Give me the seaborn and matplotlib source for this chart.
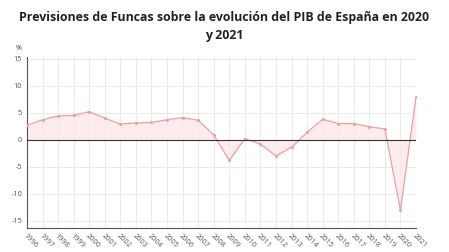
import matplotlib
matplotlib.use("Agg")
import matplotlib.pyplot as plt
import seaborn as sns
import pandas as pd

years = list(range(1996, 2022))
pib = [2.7, 3.7, 4.4, 4.5, 5.2, 4.0, 2.9, 3.1, 3.2, 3.7, 4.1, 3.6, 0.9, -3.8,
       0.2, -0.8, -3.0, -1.4, 1.4, 3.8, 3.0, 3.0, 2.4, 2.0, -13.0, 7.9]
yticks = [-15, -10, -5, 0, 5, 10, 15]
title = "Previsiones de Funcas sobre la evolución del PIB de España en 2020\ny 2021"

df = pd.DataFrame({"year": years, "pib": pib})

sns.set_style("white")
plt.rcParams['font.family'] = ['Open Sans', 'DejaVu Sans']

fig = plt.figure(figsize=(4.49, 2.52), dpi=100)
ax = fig.add_axes([27/449, 1 - 228/252, (416 - 27)/449, (228 - 57)/252])

line_c = "#e8a0a0"
ax.fill_between(df["year"], df["pib"], 0, color="#fde8ea", alpha=0.8, lw=0, zorder=1)
sns.lineplot(data=df, x="year", y="pib", ax=ax, color=line_c, lw=0.9,
             marker="o", markersize=2.2, markeredgewidth=0, zorder=3)
ax.axhline(0, color="#333333", lw=0.8, zorder=4)

ax.set_xlim(1996, 2021)
ax.set_ylim(-16.3, 15.3)
ax.set_xticks(years)
ax.set_xticklabels([str(y) for y in years], rotation=-45, ha="left",
                   rotation_mode="anchor", fontsize=5.3, color="#555555")
ax.set_yticks(yticks)
ax.set_yticklabels([str(v) for v in yticks], fontsize=5.3, color="#555555")
ax.tick_params(axis="both", length=2, width=0.6, color="#555555", pad=1.5)
ax.grid(True, color="#e6e6e6", lw=0.6, zorder=0)
ax.set_axisbelow(True)
for s in ["top", "right"]:
    ax.spines[s].set_visible(False)
for s in ["left", "bottom"]:
    ax.spines[s].set_color("#555555")
    ax.spines[s].set_linewidth(0.8)
ax.set_xlabel("")
ax.set_ylabel("")

fig.text(16/449, 1 - 49/252, "%", fontsize=5, color="#444444", ha="left", va="center")
fig.text(0.5, 1 - 11/252, title, ha="center", va="top", fontsize=8.9,
         fontweight="bold", color="#222222", linespacing=1.45)

fig.savefig("out.png", dpi=100)
